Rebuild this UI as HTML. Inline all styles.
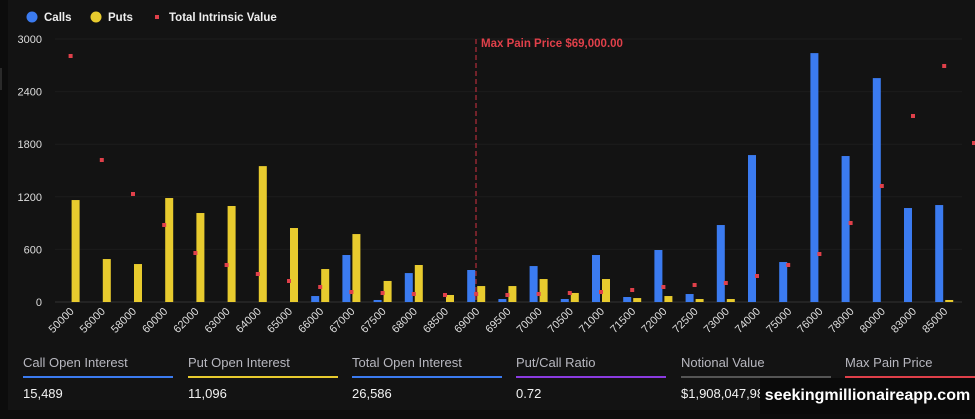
<!DOCTYPE html>
<html><head><meta charset="utf-8"><style>
html,body{margin:0;padding:0;background:#0c0c0c;}
body{width:975px;height:419px;overflow:hidden;position:relative;font-family:"Liberation Sans",sans-serif;}
#wrap{position:absolute;left:8px;top:0;width:967px;height:410px;background:#131313;}
svg{position:absolute;left:0;top:0}
.st{position:absolute;top:355px;width:150px;}
.st .t{color:#b8b8c0;font-size:13px;}
.st .l{height:2px;margin-top:6px;}
.st .v{color:#f2f2f2;font-size:13px;margin-top:8px;}
#wm{position:absolute;left:760px;top:378px;width:215px;height:36px;background:#0a0a0a;color:#fff;font-weight:bold;font-size:16px;line-height:36px;text-align:center;}
</style></head><body>
<div id="wrap"></div>
<svg id="s" width="975" height="419"></svg>
<div class="st" style="left:23px"><div class="t">Call Open Interest</div><div class="l" style="background:#3b7bf0"></div><div class="v">15,489</div></div>
<div class="st" style="left:188px"><div class="t">Put Open Interest</div><div class="l" style="background:#e8cb2e"></div><div class="v">11,096</div></div>
<div class="st" style="left:352px"><div class="t">Total Open Interest</div><div class="l" style="background:#3b7bf0"></div><div class="v">26,586</div></div>
<div class="st" style="left:516px"><div class="t">Put/Call Ratio</div><div class="l" style="background:#8a3be0"></div><div class="v">0.72</div></div>
<div class="st" style="left:681px"><div class="t">Notional Value</div><div class="l" style="background:#555"></div><div class="v">$1,908,047,981.78</div></div>
<div class="st" style="left:845px"><div class="t">Max Pain Price</div><div class="l" style="background:#e0404a"></div><div class="v">$69,000.00</div></div>
<div id="wm">seekingmillionaireapp.com</div>
<script>
var labs=["50000","56000","58000","60000","62000","63000","64000","65000","66000","67000","67500","68000","68500","69000","69500","70000","70500","71000","71500","72000","72500","73000","74000","75000","76000","78000","80000","83000","85000"];
var puts=[1163,490,433,1186,1015,1095,1550,844,376,775,240,422,80,182,182,262,103,262,45,68,34,34,0,0,0,0,0,0,23];
var calls=[0,0,0,0,0,0,0,0,68,536,23,330,0,365,34,410,34,536,57,593,91,878,1676,456,2839,1665,2554,1072,1106];
var dots=[56,160,194,225,253,265,274,281,287,292,293,294,295,294,295,294,293,292,290,287,285,283,276,265,254,223,186,116,66];
var s='';var y0=302,k=263/3000;
[3000,2400,1800,1200,600,0].forEach(function(v){var y=y0-v*k;
s+='<line x1="55" x2="962" y1="'+y+'" y2="'+y+'" stroke="'+(v?'#1c1c1c':'#333')+'" stroke-width="1"/>';
s+='<text x="42" y="'+(y+4)+'" fill="#ddd" font-size="11" text-anchor="end" font-family="Liberation Sans">'+v+'</text>';});
for(var i=0;i<29;i++){var c=70.6+31.2*i;
if(calls[i])s+='<rect x="'+(c-9)+'" y="'+(y0-calls[i]*k)+'" width="8" height="'+calls[i]*k+'" fill="#3b7bf0"/>';
if(puts[i])s+='<rect x="'+(c+1)+'" y="'+(y0-puts[i]*k)+'" width="8" height="'+puts[i]*k+'" fill="#e8cb2e"/>';
s+='<rect x="'+(c-2)+'" y="'+(dots[i]-2)+'" width="4" height="4" fill="#e0404a"/>';
s+='<text transform="translate('+(c+4)+',312) rotate(-45)" fill="#ddd" font-size="11" text-anchor="end" font-family="Liberation Sans">'+labs[i]+'</text>';}
s+='<line x1="476" x2="476" y1="39" y2="302" stroke="#d03040" stroke-dasharray="5,3"/>';
s+='<text x="481" y="47" fill="#e0404a" font-size="11.5" font-weight="bold" font-family="Liberation Sans">Max Pain Price $69,000.00</text>';
s+='<circle cx="32" cy="17" r="5.5" fill="#3b7bf0"/><text x="44" y="21" fill="#eee" font-size="11.5" font-weight="bold" font-family="Liberation Sans">Calls</text>';
s+='<circle cx="96" cy="17" r="5.5" fill="#e8cb2e"/><text x="108" y="21" fill="#eee" font-size="11.5" font-weight="bold" font-family="Liberation Sans">Puts</text>';
s+='<rect x="155" y="15" width="4" height="4" fill="#e0404a"/><text x="169" y="21" fill="#eee" font-size="11.5" font-weight="bold" font-family="Liberation Sans">Total Intrinsic Value</text>';
s+='<rect x="972" y="141" width="3" height="4" fill="#e0404a"/><rect x="0" y="68" width="2" height="22" fill="#2a2a2a"/>';
document.getElementById('s').innerHTML=s;
</script>
</body></html>
